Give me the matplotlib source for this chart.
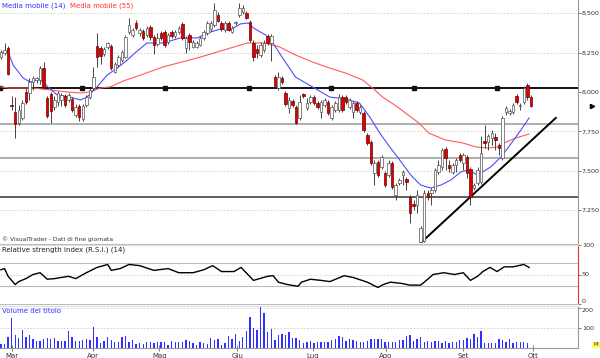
import numpy as np
import matplotlib
matplotlib.use("Agg")
import matplotlib.pyplot as plt
from matplotlib.lines import Line2D
from matplotlib.ticker import FuncFormatter

# daily prices, one value per session (late Feb -> end Sep)
opens = [8222, 8248, 8279, 7917, 7873, 7803, 7835, 8000, 7994, 8063,
         8076, 8076, 8152, 7962, 7987, 7905, 7936, 7949, 7974, 7949,
         7955, 7854, 7911, 7828, 7917, 7968, 8025, 8292, 8279, 8241,
         8286, 8292, 8127, 8171, 8203, 8222, 8381, 8362, 8438, 8374,
         8387, 8362, 8413, 8349, 8305, 8374, 8381, 8317, 8381, 8355,
         8381, 8432, 8279, 8362, 8286, 8286, 8298, 8343, 8374, 8400,
         8425, 8489, 8438, 8394, 8438, 8381, 8438, 8489, 8508, 8501,
         8444, 8311, 8273, 8235, 8267, 8355, 8311, 8095, 8025, 8089,
         7994, 7898, 7943, 7905, 7835, 7987, 7898, 7936, 7968, 7930,
         7873, 7917, 7936, 7835, 7886, 7886, 7968, 7968, 7905, 7873,
         7930, 7873, 7866, 7727, 7682, 7486, 7555, 7524, 7486, 7473,
         7549, 7346, 7422, 7473, 7447, 7333, 7289, 7282, 7050, 7055,
         7359, 7359, 7378, 7492, 7524, 7638, 7536, 7492, 7536, 7600,
         7549, 7587, 7511, 7390, 7422, 7428, 7689, 7682, 7708, 7714,
         7663, 7581, 7873, 7866, 7873, 7974, 7911, 7936, 8044, 7968]
closes = [8254, 8267, 8114, 7911, 7797, 7886, 7930, 7936, 8063, 8089,
          8089, 8152, 8032, 7847, 7879, 7949, 7994, 7981, 7917, 7981,
          7886, 7905, 7841, 7911, 7968, 8013, 8095, 8222, 8228, 8273,
          8311, 8152, 8178, 8222, 8254, 8349, 8425, 8394, 8406, 8394,
          8343, 8406, 8349, 8298, 8343, 8343, 8298, 8362, 8355, 8381,
          8406, 8343, 8343, 8317, 8317, 8311, 8343, 8381, 8438, 8438,
          8520, 8451, 8400, 8438, 8394, 8406, 8444, 8533, 8533, 8470,
          8330, 8222, 8248, 8298, 8311, 8311, 8355, 8038, 8095, 8063,
          7924, 7949, 7917, 7803, 7936, 7974, 7930, 7968, 7930, 7905,
          7936, 7949, 7866, 7905, 7930, 7968, 7886, 7936, 7949, 7930,
          7886, 7905, 7759, 7676, 7549, 7549, 7473, 7587, 7409, 7549,
          7397, 7409, 7441, 7492, 7428, 7232, 7276, 7346, 7136, 7359,
          7333, 7378, 7505, 7536, 7632, 7581, 7517, 7536, 7568, 7568,
          7600, 7486, 7333, 7409, 7505, 7612, 7676, 7720, 7739, 7695,
          7644, 7835, 7898, 7879, 7917, 7936, 7917, 8025, 7968, 7911]
highs = [8267, 8311, 8292, 7974, 7968, 7917, 7949, 8025, 8089, 8101,
         8095, 8165, 8190, 7974, 8000, 7974, 8006, 7994, 7987, 7994,
         7968, 7924, 7924, 7924, 7981, 8025, 8159, 8374, 8292, 8286,
         8317, 8305, 8190, 8235, 8267, 8362, 8470, 8406, 8457, 8406,
         8400, 8419, 8425, 8362, 8374, 8387, 8394, 8374, 8394, 8394,
         8419, 8444, 8355, 8374, 8330, 8324, 8355, 8394, 8451, 8451,
         8565, 8508, 8451, 8451, 8451, 8419, 8451, 8565, 8552, 8514,
         8457, 8330, 8298, 8317, 8330, 8368, 8368, 8108, 8127, 8101,
         8006, 7968, 7955, 7917, 7981, 7994, 7962, 7981, 7981, 7943,
         7949, 7962, 7949, 7917, 7943, 7987, 7981, 7981, 7962, 7943,
         7943, 7917, 7879, 7739, 7695, 7568, 7568, 7600, 7498, 7568,
         7562, 7422, 7454, 7505, 7460, 7346, 7314, 7378, 7149, 7378,
         7378, 7390, 7517, 7568, 7644, 7651, 7568, 7549, 7581, 7612,
         7612, 7600, 7524, 7422, 7524, 7720, 7790, 7733, 7759, 7739,
         7676, 7847, 7911, 7892, 7930, 7987, 7930, 8038, 8057, 7981]
lows = [8209, 8235, 8108, 7886, 7708, 7790, 7822, 7924, 7949, 8013,
        8057, 8051, 8019, 7835, 7803, 7886, 7911, 7911, 7905, 7936,
        7873, 7841, 7816, 7816, 7905, 7955, 8013, 8159, 8178, 8228,
        8273, 8140, 8120, 8159, 8190, 8216, 8368, 8349, 8394, 8355,
        8330, 8349, 8330, 8241, 8292, 8330, 8286, 8305, 8343, 8343,
        8368, 8330, 8248, 8267, 8279, 8279, 8292, 8330, 8362, 8387,
        8413, 8444, 8387, 8381, 8387, 8374, 8425, 8476, 8495, 8463,
        8317, 8197, 8216, 8222, 8254, 8298, 8197, 8025, 8013, 8051,
        7911, 7866, 7905, 7797, 7822, 7962, 7886, 7924, 7917, 7892,
        7835, 7905, 7854, 7822, 7873, 7873, 7873, 7924, 7892, 7835,
        7873, 7860, 7746, 7663, 7536, 7409, 7460, 7511, 7397, 7460,
        7384, 7314, 7409, 7409, 7378, 7168, 7251, 7232, 7045, 7045,
        7314, 7282, 7365, 7479, 7505, 7505, 7492, 7479, 7492, 7555,
        7505, 7454, 7282, 7378, 7409, 7416, 7644, 7632, 7663, 7632,
        7600, 7568, 7854, 7854, 7860, 7924, 7886, 7924, 7949, 7905]

# moving averages (session index, price)
ma14_idx = [0, 2, 3.4, 6.2, 8.2, 11, 13.2, 15.8, 19.4, 22.3, 24.2, 27, 29.9, 32.7, 35.5,
            37.7, 41, 45.6, 50.4, 55.2, 58, 61.7, 64.5, 67.3, 69.6, 71, 74.4, 76.3, 79.2,
            82.8, 87.6, 92.4, 96.9, 100.8, 103.7, 106.5, 109.3, 111.5, 115.2, 118, 120.8,
            123.7, 126.5, 129.3, 131.3, 134, 137.7, 140.6, 144.2, 146.2, 148.5]
ma14 = [8248, 8254, 8171, 8089, 8063, 8082, 8032, 7981, 7968, 7949, 7968, 8032, 8108, 8152, 8203,
        8248, 8311, 8311, 8343, 8343, 8374, 8400, 8394, 8432, 8438, 8406, 8362, 8317, 8216,
        8095, 8032, 7968, 7955, 7930, 7841, 7739, 7651, 7587, 7473, 7409, 7390,
        7409, 7441, 7492, 7505, 7473, 7524, 7587, 7695, 7759, 7835]
ma55_idx = [0, 2.5, 9, 13.8, 18.6, 22.3, 25, 27.9, 30.7, 34.4, 37.7, 45.6, 55.2, 64.5, 69.3,
            74.4, 78.3, 82.8, 87.6, 92.4, 96.9, 101.7, 104.5, 107.3, 111.5, 117.5, 120.3,
            125, 129.9, 133.5, 137, 140, 142, 144.8, 148.5]
ma55 = [8032, 8025, 8025, 8013, 8000, 7994, 8000, 8025, 8032, 8070, 8095, 8159, 8216, 8279, 8311,
        8311, 8286, 8235, 8190, 8152, 8120, 8076, 8025, 7968, 7905, 7803, 7739,
        7695, 7676, 7651, 7644, 7651, 7682, 7708, 7733]

# RSI (14)
rsi_idx = [0, 1, 2, 4, 5, 7, 9, 11, 13, 15, 19, 21, 24, 27, 30, 31, 33.5, 36, 39, 43, 47, 50,
           54, 57, 59.5, 62, 65.5, 67.5, 71, 75, 76.5, 78, 80.5, 83.5, 84.5, 87, 90, 92.5,
           96.5, 99, 103, 106, 107.5, 109.5, 112.5, 115, 118, 120, 121.5, 124.5, 127.5, 130,
           132, 134, 135.5, 137.5, 139.5, 141.5, 144, 147, 148.5]
rsi = [58, 60, 47, 33, 38, 43, 50, 53, 42, 43, 47, 43, 53, 62, 67, 57, 60, 67, 65, 57, 60, 53,
       53, 58, 65, 55, 55, 62, 40, 47, 48, 37, 33, 30, 37, 42, 40, 38,
       48, 45, 37, 28, 33, 37, 35, 32, 32, 42, 50, 53, 50, 53,
       40, 47, 55, 62, 55, 63, 63, 67, 62]

# volume (thousands)
volume = [20, 20, 53, 152, 65, 48, 90, 57, 65, 43, 35, 35, 45, 52, 47, 52, 35, 35, 35, 85,
          53, 37, 37, 40, 45, 40, 103, 53, 23, 37, 53, 40, 32, 32, 57, 62, 32, 40, 18, 23,
          18, 28, 32, 23, 32, 28, 28, 15, 37, 32, 32, 32, 40, 35, 23, 15, 28, 23, 20, 52,
          40, 43, 15, 27, 60, 45, 68, 37, 53, 87, 157, 98, 90, 207, 177, 82, 93, 40, 65, 70,
          65, 82, 52, 48, 40,
          23, 28, 35, 23, 32, 32, 28, 28, 40, 45, 60, 57, 35, 45, 40, 35, 32, 32, 37, 45,
          45, 45, 43, 32, 28, 32, 32, 40, 40, 62, 65, 35, 45, 57, 32, 35, 32, 37, 35, 23,
          35, 23, 32, 32, 40, 40, 52, 45, 68, 57, 87, 27, 27, 27, 27, 45, 40, 28, 43, 23,
          28, 32, 28, 27, 2]

months = ["Mar", "Apr", "Mag", "Giu", "Lug", "Ago", "Set", "Ott"]
month_pos = [3.1, 25.9, 44.5, 66.5, 87.6, 108.2, 129.9, 149.6]

# drawn levels
resistance = 8025
handle_pos = [-0.3, 22.8, 46.2, 69.6, 92.7, 116, 139.4]
gray_levels = [7797, 7581]
support = 7333
trend_x = [118, 156]
trend_y = [7041, 7835]

W, H = 600, 358
fig = plt.figure(figsize=(W / 100, H / 100), dpi=100)
fig.patch.set_facecolor("white")


def px_axes(x0, y0, x1, y1):
    return fig.add_axes([x0 / W, 1 - y1 / H, (x1 - x0) / W, (y1 - y0) / H])


xmin, xmax = -0.28, 162.25
ax_p = px_axes(0, 0, 578, 243)
ax_r = px_axes(0, 245, 578, 304)
ax_v = px_axes(0, 306, 578, 348)

tick_font = 4.6
for ax in (ax_p, ax_r, ax_v):
    ax.set_xlim(xmin, xmax)
    ax.set_facecolor("white")
    for s in ("top", "left", "bottom"):
        ax.spines[s].set_visible(False)
    ax.spines["right"].set_color("#999999")
    ax.spines["right"].set_linewidth(0.8)
    ax.yaxis.tick_right()
    ax.tick_params(axis="y", direction="out", length=2.5, width=0.6, color="#666666",
                   labelsize=tick_font, labelcolor="#333333", pad=0.3)
    ax.tick_params(axis="x", bottom=False, labelbottom=False)

# ---- price panel
o = np.array(opens, float)
c = np.array(closes, float)
h = np.array(highs, float)
l = np.array(lows, float)
x = np.arange(len(o))
up = c >= o

ax_p.set_ylim(7041, 8584)
ax_p.set_yticks([7250, 7500, 7750, 8000, 8250, 8500])
ax_p.yaxis.set_major_formatter(FuncFormatter(lambda v, p: f"{int(v):,}"))
for lv in [7250, 7500, 7750, 8250, 8500]:
    ax_p.axhline(lv, color="#cccccc", lw=0.6, ls=(0, (2, 2)), zorder=0)

for lv in gray_levels:
    ax_p.axhline(lv, color="#999999", lw=1.1, zorder=1)
ax_p.axhline(support, color="#333333", lw=1.1, zorder=1)
ax_p.axhline(resistance, color="#111111", lw=1.4, zorder=1)
ax_p.plot(handle_pos, [resistance] * len(handle_pos), ls="none", marker="s", ms=2.5,
          color="#111111", zorder=1.5, clip_on=False)
ax_p.plot(trend_x, trend_y, color="black", lw=1.4, zorder=1.6)

ax_p.plot(ma55_idx, ma55, color="#ff5a5a", lw=0.8, zorder=2)
ax_p.plot(ma14_idx, ma14, color="#4d4dff", lw=0.8, zorder=2)

ax_p.vlines(x, l, h, color="#444444", lw=0.7, zorder=3)
body_lo = np.minimum(o, c)
body_h = np.maximum(np.abs(c - o), 4)
ax_p.bar(x[up], body_h[up], bottom=body_lo[up], width=0.7, color="white",
         edgecolor="#555555", lw=0.5, zorder=4)
ax_p.bar(x[~up], body_h[~up], bottom=body_lo[~up], width=0.7, color="#e00000",
         edgecolor="#700000", lw=0.5, zorder=4)

# last price marker
ax_p.plot([166.2], [closes[-1]], marker=">", ms=3, color="black", clip_on=False, zorder=5)

# ---- RSI panel
ax_r.set_ylim(2, 100)
ax_r.set_yticks([0, 50, 100])
ax_r.set_yticklabels(["0", "50", "100"])
ax_r.get_yticklabels()[0].set_va("bottom")
ax_r.spines["right"].set_color("#ee3333")
for lv in (70, 30):
    ax_r.axhline(lv, color="#bbbbbb", lw=0.8, zorder=0)
ax_r.axhline(50, color="#cccccc", lw=0.6, ls=(0, (2, 2)), zorder=0)
ax_r.plot(rsi_idx, rsi, color="black", lw=1.0, zorder=2)

# ---- volume panel
ax_v.set_ylim(0, 210)
ax_v.set_yticks([100, 200])
ax_v.set_yticklabels(["100", "200"])
ax_v.get_yticklabels()[1].set_va("top")
for lv in (100, 200):
    ax_v.axhline(lv, color="#cccccc", lw=0.6, ls=(0, (2, 2)), zorder=0)
ax_v.bar(np.arange(len(volume)), volume, width=0.38, color="#3030ff", zorder=2)
ax_v.spines["bottom"].set_visible(True)
ax_v.spines["bottom"].set_color("#999999")
ax_v.spines["bottom"].set_linewidth(0.8)
ax_v.set_xticks(month_pos)
ax_v.set_xticklabels(months)
ax_v.tick_params(axis="x", bottom=True, labelbottom=True, direction="inout", length=5,
                 width=0.6, color="#666666", labelsize=5, labelcolor="#333333", pad=1)

# panel separators
for yy, col in [(243.5, "#bbbbbb"), (244.8, "#dddddd"), (304.3, "#bbbbbb"), (305.6, "#dddddd")]:
    fig.add_artist(Line2D([0, 578 / W], [1 - yy / H, 1 - yy / H], color=col, lw=0.8))

# texts
def ftext(px, py, s, **kw):
    fig.text(px / W, 1 - py / H, s, va="center", ha="left", **kw)


ftext(2, 6, "Media mobile (14)", color="#3333ff", fontsize=5)
ftext(70, 6, "Media mobile (55)", color="#ff3333", fontsize=5)
ftext(2, 239, "\u00a9 VisualTrader - Dati di fine giornata", color="#333333", fontsize=4.3)
ftext(2, 250, "Relative strength index (R.S.I.) (14)", color="#222222", fontsize=5)
ftext(2, 311, "Volume del titolo", color="#3333ff", fontsize=5)
fig.text(596 / W, 1 - 345 / H, "MI", fontsize=3.5, ha="center", va="center",
         color="#333333", bbox=dict(boxstyle="square,pad=0.15", fc="#ffff66", ec="none"))

fig.savefig("out.png", dpi=100)
